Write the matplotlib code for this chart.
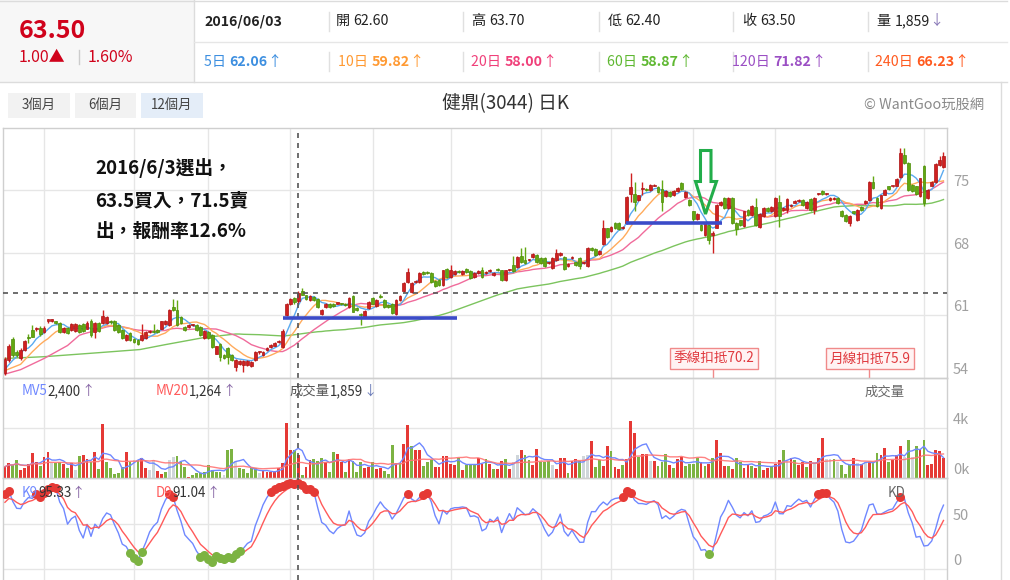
import numpy as np
import pandas as pd
import matplotlib
matplotlib.use("Agg")
import matplotlib.pyplot as plt
from matplotlib.patches import Rectangle, Polygon
import matplotlib.transforms as mtransforms

FONT = ['Noto Sans CJK TC', 'DejaVu Sans']
plt.rcParams['font.family'] = FONT

# ---------------- data ----------------
opens = [54.5, 56.0, 58.3, 56.9, 56.2, 57.1, 58.5, 59.3, 59.4, 59.6,
         59.1, 60.4, 60.4, 60.3, 60.1, 59.1, 59.6, 59.3, 59.2, 59.9,
         60.0, 59.5, 60.4, 59.1, 60.1, 60.1, 60.1, 60.3, 60.4, 59.9,
         59.3, 58.2, 59.0, 58.3, 58.2, 58.2, 58.4, 59.1, 59.2, 59.3,
         59.5, 60.0, 59.9, 61.9, 61.6, 60.8, 59.7, 59.7, 59.9, 59.9,
         59.7, 58.4, 59.1, 58.8, 56.7, 57.8, 56.5, 57.3, 56.5, 55.2,
         55.5, 55.4, 55.4, 55.3, 56.0, 56.9, 56.5, 57.1, 57.4, 57.6,
         58.0, 57.4, 61.0, 62.2, 62.9, 62.6, 63.7, 63.2, 62.7, 63.0,
         62.8, 61.1, 61.9, 62.3, 62.3, 62.3, 62.3, 62.3, 61.9, 63.1,
         61.8, 61.1, 60.8, 61.8, 62.9, 62.0, 63.1, 62.7, 62.1, 62.3,
         61.1, 62.7, 63.7, 64.7, 63.6, 64.7, 64.7, 65.8, 65.8, 65.7,
         64.8, 64.9, 64.4, 66.2, 65.3, 65.6, 65.9, 65.6, 66.2, 65.9,
         65.3, 65.7, 66.1, 65.7, 65.9, 65.5, 66.2, 66.0, 64.9, 66.0,
         66.6, 66.4, 67.6, 67.2, 67.2, 67.5, 67.7, 67.4, 67.4, 66.8,
         66.3, 67.2, 67.7, 67.5, 66.5, 67.4, 66.9, 67.4, 66.8, 66.5,
         68.5, 68.4, 67.8, 69.0, 70.7, 70.4, 71.3, 71.3, 70.7, 71.3,
         74.6, 74.6, 73.9, 75.1, 75.1, 75.0, 75.5, 75.3, 75.1, 74.3,
         74.8, 74.4, 74.9, 75.8, 74.2, 73.9, 72.6, 71.8, 71.1, 70.0,
         71.1, 70.0, 70.8, 73.3, 74.1, 73.0, 74.1, 71.3, 71.6, 71.0,
         72.8, 72.2, 73.1, 70.9, 72.1, 73.0, 72.6, 72.1, 73.7, 72.8,
         72.8, 73.25, 73.6, 73.8, 73.9, 73.0, 74.0, 72.8, 74.6, 74.9,
         74.6, 73.9, 74.0, 74.1, 72.7, 72.2, 71.3, 72.6, 71.6, 73.1,
         73.5, 73.9, 75.9, 74.1, 73.0, 74.5, 75.4, 75.4, 75.5, 76.5,
         78.9, 78.0, 75.6, 75.4, 74.3, 77.7, 74.1, 75.5, 75.9, 77.8,
         77.6]
highs = [56.3, 57.8, 58.5, 57.1, 57.3, 58.2, 58.9, 59.9, 59.7, 59.8,
         59.8, 60.6, 60.6, 60.4, 60.2, 59.7, 59.7, 60.1, 60.1, 60.0,
         60.1, 60.3, 60.6, 60.2, 60.2, 61.6, 60.9, 60.5, 60.5, 60.0,
         59.4, 58.9, 59.1, 58.4, 58.3, 60.0, 59.2, 59.3, 60.0, 59.4,
         60.4, 60.5, 61.7, 62.8, 62.7, 60.9, 59.8, 60.0, 60.0, 60.0,
         59.8, 59.3, 59.2, 58.9, 57.6, 57.9, 56.6, 57.4, 56.6, 56.1,
         56.0, 56.0, 56.0, 55.9, 57.0, 57.0, 57.0, 57.4, 57.8, 58.0,
         58.2, 59.4, 62.4, 62.9, 63.0, 63.7, 64.0, 63.3, 63.2, 63.1,
         62.9, 61.7, 62.4, 62.4, 62.4, 62.4, 62.4, 62.4, 63.0, 63.2,
         61.9, 61.2, 61.6, 62.6, 63.0, 62.8, 63.4, 62.8, 62.2, 62.4,
         62.8, 63.2, 64.7, 66.3, 64.7, 64.9, 65.8, 65.9, 65.9, 65.8,
         64.9, 65.0, 66.1, 66.3, 66.6, 66.0, 66.0, 66.0, 66.3, 66.0,
         65.8, 66.0, 66.4, 65.9, 66.2, 65.8, 66.3, 66.1, 66.1, 66.2,
         67.6, 67.6, 68.5, 68.6, 67.3, 67.9, 67.8, 67.5, 67.5, 66.9,
         67.5, 68.4, 68.1, 67.6, 66.8, 67.6, 67.0, 67.5, 66.9, 68.6,
         68.6, 68.5, 68.3, 71.6, 70.8, 71.0, 71.4, 71.4, 71.0, 74.3,
         76.9, 75.9, 74.5, 75.9, 75.2, 75.7, 75.7, 75.4, 76.1, 75.0,
         74.9, 75.0, 75.3, 75.9, 74.9, 74.0, 72.7, 72.4, 71.2, 71.4,
         71.2, 70.4, 73.4, 73.8, 74.2, 74.2, 74.2, 71.4, 71.7, 72.7,
         72.9, 73.3, 74.1, 72.4, 73.1, 73.1, 73.2, 74.2, 74.4, 73.1,
         74.1, 73.4, 73.9, 74.0, 74.0, 73.8, 74.1, 74.2, 74.7, 75.0,
         74.7, 74.2, 74.2, 74.2, 72.8, 72.3, 72.2, 72.7, 72.9, 73.2,
         73.9, 76.0, 76.6, 74.2, 74.5, 75.1, 75.5, 75.5, 76.3, 79.7,
         79.7, 78.1, 75.7, 75.5, 76.4, 77.8, 75.1, 76.0, 78.0, 78.8,
         79.3]
lows = [54.3, 55.8, 56.3, 56.3, 56.0, 57.0, 57.9, 58.5, 59.2, 58.7,
        59.0, 60.1, 60.2, 60.0, 59.0, 59.0, 58.9, 59.2, 59.1, 59.0,
        59.1, 59.4, 58.6, 58.4, 59.1, 60.0, 60.0, 60.0, 59.2, 59.0,
        58.3, 58.1, 58.1, 57.9, 57.7, 58.1, 58.3, 59.0, 59.0, 59.0,
        59.4, 59.9, 59.8, 61.5, 59.8, 60.0, 59.2, 59.6, 59.8, 59.2,
        58.7, 58.3, 58.3, 57.3, 56.6, 55.9, 56.1, 55.5, 55.9, 54.8,
        55.4, 54.6, 55.3, 55.2, 55.9, 56.7, 56.4, 57.0, 57.3, 57.5,
        57.9, 57.3, 60.9, 62.1, 62.3, 62.4, 63.2, 62.7, 62.6, 62.6,
        61.8, 61.0, 61.8, 61.8, 61.9, 62.2, 62.1, 62.0, 61.8, 61.3,
        61.5, 59.9, 60.7, 61.7, 62.2, 61.9, 62.9, 61.8, 61.8, 61.1,
        61.0, 62.6, 63.6, 64.6, 63.5, 64.6, 64.6, 65.5, 65.6, 64.6,
        64.2, 64.3, 64.3, 65.2, 65.2, 65.5, 65.7, 65.5, 65.7, 65.1,
        65.2, 65.6, 65.2, 65.6, 65.8, 65.4, 65.9, 64.8, 64.8, 65.9,
        65.8, 66.3, 66.8, 66.7, 67.1, 67.4, 66.8, 66.7, 66.4, 66.7,
        66.2, 67.1, 67.6, 66.1, 66.4, 67.3, 66.5, 66.2, 66.7, 66.4,
        68.2, 67.6, 67.7, 68.9, 69.6, 70.3, 70.6, 70.5, 70.6, 71.2,
        73.7, 72.6, 73.8, 74.4, 74.9, 74.9, 75.4, 74.7, 72.6, 74.2,
        74.2, 74.3, 74.8, 75.0, 74.1, 73.2, 71.4, 71.7, 70.4, 69.9,
        69.0, 67.9, 70.7, 73.2, 72.9, 72.9, 71.2, 70.0, 71.0, 70.9,
        72.1, 72.1, 71.0, 70.8, 72.0, 72.5, 72.5, 72.0, 70.9, 72.7,
        72.4, 73.1, 73.5, 73.7, 73.2, 72.9, 72.7, 72.3, 74.5, 74.5,
        74.5, 73.8, 73.9, 73.4, 72.0, 71.4, 71.0, 72.3, 71.5, 72.7,
        73.4, 73.8, 75.1, 73.1, 72.9, 74.4, 75.0, 75.3, 75.4, 76.4,
        77.9, 74.9, 74.8, 74.5, 74.2, 73.2, 74.0, 75.4, 75.8, 77.7,
        77.5]
closes = [56.1, 57.6, 56.5, 56.5, 57.1, 58.1, 58.4, 58.6, 59.5, 58.9,
          59.6, 60.5, 60.5, 60.1, 59.1, 59.6, 59.0, 60.0, 60.0, 59.1,
          59.2, 60.1, 58.8, 60.1, 59.2, 60.9, 60.8, 60.2, 59.3, 59.1,
          58.4, 58.8, 58.2, 58.0, 57.8, 58.8, 59.1, 59.2, 59.1, 59.1,
          60.3, 60.4, 61.6, 61.6, 59.9, 60.1, 59.3, 59.9, 59.9, 59.3,
          58.8, 59.2, 58.4, 57.4, 57.5, 56.3, 56.2, 56.3, 56.0, 56.0,
          55.9, 55.9, 55.9, 55.8, 56.9, 56.9, 56.9, 57.3, 57.7, 57.9,
          58.1, 59.2, 62.3, 62.8, 62.5, 63.5, 63.3, 62.8, 63.1, 62.7,
          61.9, 61.6, 62.3, 61.9, 62.0, 62.3, 62.2, 62.1, 62.9, 61.4,
          61.6, 61.0, 61.5, 62.5, 62.3, 62.7, 63.0, 61.9, 61.9, 61.2,
          62.7, 63.1, 64.6, 65.8, 64.6, 64.7, 65.7, 65.6, 65.7, 64.7,
          64.3, 64.4, 66.0, 65.3, 66.1, 65.9, 65.85, 65.9, 65.8, 65.2,
          65.7, 65.9, 65.3, 65.75, 66.1, 65.7, 66.0, 64.9, 66.0, 66.1,
          65.9, 67.5, 66.9, 66.8, 67.2, 67.8, 66.9, 66.8, 66.5, 66.8,
          67.4, 67.9, 68.0, 66.2, 66.7, 67.4, 66.6, 66.5, 66.8, 68.5,
          68.3, 67.7, 68.2, 70.7, 69.7, 70.9, 70.7, 70.6, 70.9, 74.2,
          75.3, 73.7, 74.4, 75.1, 75.0, 75.6, 75.6, 74.8, 73.7, 74.9,
          74.3, 74.9, 75.2, 75.1, 74.8, 73.3, 71.8, 72.3, 70.5, 71.3,
          69.4, 70.2, 73.3, 73.7, 73.0, 74.1, 71.3, 70.6, 71.1, 72.6,
          72.2, 73.2, 71.1, 72.3, 73.0, 72.6, 73.1, 74.1, 72.1, 73.0,
          74.0, 73.25, 73.8, 73.9, 73.3, 73.7, 72.8, 74.1, 74.6, 74.6,
          74.6, 74.1, 74.1, 73.5, 72.1, 71.5, 72.1, 72.4, 72.8, 72.8,
          73.8, 75.9, 75.2, 73.2, 74.4, 75.0, 75.1, 75.4, 76.2, 79.2,
          78.0, 75.0, 74.9, 74.6, 76.3, 73.5, 75.0, 75.9, 77.9, 78.4,
          78.8]
volumes = [930, 1200, 1070, 1470, 670, 800, 1120, 2000, 1280, 1010,
           1730, 2080, 1200, 1250, 1280, 1120, 800, 1200, 670, 1810,
           1870, 1550, 1280, 2080, 750, 4350, 1330, 800, 320, 400,
           930, 2080, 1330, 1470, 1470, 1600, 850, 670, 1470, 610,
           320, 530, 1470, 1680, 1810, 1280, 930, 130, 270, 400,
           400, 530, 1070, 670, 480, 480, 270, 2250, 2330, 1390,
           800, 750, 400, 850, 800, 400, 590, 480, 530, 590,
           850, 1201, 4400, 2270, 2270, 1859, 270, 930, 1470, 1550,
           1390, 1600, 1280, 480, 2080, 1950, 1280, 480, 1550, 1390,
           480, 1280, 850, 930, 1280, 720, 850, 590, 350, 2670,
           1200, 1250, 2750, 4270, 2610, 2270, 2270, 1010, 1280, 1470,
           930, 930, 1810, 1810, 1120, 1070, 1600, 670, 1070, 1120,
           1070, 1600, 1120, 1550, 1120, 750, 750, 1390, 1550, 750,
           1280, 1870, 2270, 1870, 1470, 1070, 2350, 1330, 1280, 1390,
           1070, 750, 1600, 1650, 450, 1390, 1550, 1390, 1790, 1870,
           2990, 930, 1470, 1010, 2590, 2190, 930, 750, 1070, 1550,
           4590, 3600, 1730, 1920, 1920, 1390, 1390, 1010, 1280, 1920,
           1070, 850, 1550, 1730, 1010, 1120, 1120, 1650, 1280, 1010,
           1120, 1600, 3070, 2000, 1010, 1010, 750, 1600, 1280, 800,
           1070, 1010, 850, 1390, 670, 850, 930, 1120, 1470, 2270,
           1390, 1600, 1470, 1070, 1280, 930, 1390, 1280, 1600, 3200,
           1550, 1550, 1550, 1330, 1070, 350, 1070, 1650, 1200, 1120,
           1280, 1280, 1280, 2000, 1870, 2450, 1280, 1470, 1870, 2590,
           1730, 3070, 1730, 2590, 2350, 3070, 1070, 1120, 2270, 2190,
           1650]
# volume bar colour code per day: u = up (red), d = down (green), f = flat (grey)
vol_dir = ("uudduuuuud" "uufddudufd" "uudududddd" "dudfduuffu" "udffdddudd"
           "ddddddfddf" "dddddfuuuu" "uuuududuud" "ddudduudud" "dduuduuddd"
           "uduuduuddd" "uuuuuududd" "duududuudu" "ffudduuddd" "fuuuduudff"
           "udduuduudu" "uuduufuddd" "uduuddddud" "uduuududdu" "ududuuduud"
           "fuduudufuu" "ffdfdddufu" "fudduuduuu" "fdfduduuuu" "u")
ma_head = {5: [(0, 54.95), (2, 55.96)],
           10: [(0, 54.8), (4, 55.5), (7, 56.9)],
           20: [(0, 54.4), (4, 54.9), (10, 56.15), (16, 57.6)],
           60: [(0, 56.15), (10, 56.35), (24, 56.8), (34.5, 57.15), (41, 57.7), (51, 58.5)]}
month_starts = [10, 33, 52, 73, 94, 114, 137, 155, 176, 197, 235]
sel = 75                       # crosshair candle
sel_date = "2016/06/03"
ma120_sel, ma240_sel = 71.82, 66.23
k9_sel, d9_sel = 95.33, 91.04
k_init, d_init = 80.0, 70.0
stock_title = "健鼎(3044) 日K"
range_buttons = ["3個月", "6個月", "12個月"]
note_lines = ["2016/6/3選出，", "63.5買入，71.5賣", "出，報酬率12.6%"]
support_lines = [(71.1, 115.6, 60.67), (158.8, 183.4, 71.27)]

O = np.array(opens); Hh = np.array(highs); Ll = np.array(lows); C = np.array(closes)
V = np.array(volumes, dtype=float)
N = len(C)
assert len(O) == N and len(Hh) == N and len(Ll) == N and len(V) == N and len(vol_dir) == N, \
    (len(O), len(Hh), len(Ll), len(V), len(vol_dir), N)
idx = np.arange(N)

# ---------------- derived series ----------------
s = pd.Series(C)
ma = {n: s.rolling(n, min_periods=1).mean().values for n in (5, 10, 20, 60)}
vs = pd.Series(V)
mv5 = vs.rolling(5, min_periods=1).mean().values
mv20 = vs.rolling(20, min_periods=1).mean().values
h9 = pd.Series(Hh).rolling(9, min_periods=1).max().values
l9 = pd.Series(Ll).rolling(9, min_periods=1).min().values
rsv = (C - l9) / np.where(h9 - l9 == 0, 1, h9 - l9) * 100
K = np.zeros(N); D = np.zeros(N)
kp, dp = k_init, d_init
for i in range(N):
    kp = kp * 2 / 3 + rsv[i] / 3
    dp = dp * 2 / 3 + kp / 3
    K[i], D[i] = kp, dp


def ma_line(n):
    hx = [p[0] for p in ma_head[n]]
    hy = [p[1] for p in ma_head[n]]
    full = np.arange(n - 1, N)
    return np.concatenate([hx, full]), np.concatenate([hy, ma[n][n - 1:]])


# ---------------- figure ----------------
W, Hfig = 1010, 580
fig = plt.figure(figsize=(W / 100, Hfig / 100), dpi=100)
fig.patch.set_facecolor('white')


def axes_px(x0, y0, x1, y1):
    return fig.add_axes([x0 / W, 1 - y1 / Hfig, (x1 - x0) / W, (y1 - y0) / Hfig])


bg = axes_px(0, 0, W, Hfig)
bg.set_xlim(0, W); bg.set_ylim(Hfig, 0); bg.axis('off')

RED = '#d02020'; RED_E = '#aa1515'
GRN = '#62a812'; GRN_E = '#4c8c08'
GRID = '#e6e6e6'
XL = (-0.5, 240.9)

axp = axes_px(3, 127.5, 947, 377.7)
axv = axes_px(3, 378.3, 947, 478.3)
axk = axes_px(3, 478.3, 947, 580)
for a in (axp, axv, axk):
    a.set_xlim(*XL)
    a.set_xticks([]); a.set_yticks([])
    a.set_facecolor('none')
    for sp in a.spines.values():
        sp.set_color('#cfcfcf'); sp.set_linewidth(1)
    for m in month_starts:
        a.axvline(m, color=GRID, lw=1, zorder=0)
axk.spines['bottom'].set_visible(False)
axp.set_ylim(54, 82)
axv.set_ylim(0, 8000)
axk.set_ylim(-11.9, 101.1)
for v in (61, 68, 75):
    axp.axhline(v, color=GRID, lw=1, zorder=0)
axv.axhline(4000, color=GRID, lw=1, zorder=0)
for v in (0, 50):
    axk.axhline(v, color=GRID, lw=1, zorder=0)


def right_labels(a, vals, texts, dy):
    for v, t in zip(vals, texts):
        a.annotate(t, xy=(1, v), xycoords=('axes fraction', 'data'), xytext=(6, dy),
                   textcoords='offset pixels', va='center', ha='left', fontsize=10.5,
                   color='#a0a0a0', annotation_clip=False)


right_labels(axp, [54, 61, 68, 75], ['54', '61', '68', '75'], 8)
right_labels(axv, [0, 4000], ['0k', '4k'], 8)
right_labels(axk, [0, 50], ['0', '50'], 8)

# MA lines
for n, col in ((60, '#7cc45e'), (20, '#f06b9b'), (10, '#ffab5c'), (5, '#5aaaf0')):
    xs, ys = ma_line(n)
    axp.plot(xs, ys, color=col, lw=1.0, zorder=2)

# candles
upc = C >= O
fc = np.where(upc, RED, GRN); ec = np.where(upc, RED_E, GRN_E)
axp.vlines(idx, Ll, Hh, colors=fc, lw=1.0, zorder=3)
axp.bar(idx, np.maximum(np.abs(C - O), 0.12), bottom=np.minimum(O, C), width=0.72,
        color=fc, edgecolor=ec, linewidth=0.5, zorder=4)

# crosshair
for a in (axp, axv, axk):
    a.axvline(sel, color='#555555', lw=1.2, ls=(0, (3, 3)), zorder=6)
axp.axhline(C[sel], color='#555555', lw=1.2, ls=(0, (3, 3)), zorder=6)

# support lines
for x0, x1, y in support_lines:
    axp.hlines(y, x0, x1, color='#3b4bc8', lw=2.6, zorder=7)

# deduction labels
btr = mtransforms.blended_transform_factory(axp.transData, axp.transAxes)
for n, name in ((60, '季線扣抵'), (20, '月線扣抵')):
    i0 = N - n
    axp.plot([i0, i0], [0, 0.035], transform=btr, color='#f08a8a', lw=1, zorder=7)
    axp.text(i0 + 0.3, 0.077, f"{name}{C[i0]:.1f}", transform=btr, ha='center', va='center',
             fontsize=9.8, color='#e0393e', zorder=8,
             bbox=dict(boxstyle='square,pad=0.25', fc='#fff3f3', ec='#f08a8a', lw=1))

# volume
vcol = {'u': '#e53935', 'd': '#7cb342', 'f': '#cfd6da'}
axv.bar(idx, V, width=0.72, color=[vcol[c] for c in vol_dir], linewidth=0, zorder=3)
axv.plot(idx, mv5, color='#6f88ff', lw=1.0, zorder=4)
axv.plot(idx, mv20, color='#ff7575', lw=1.0, zorder=4, alpha=0.9)

# KD
axk.plot(idx, K, color='#6f88ff', lw=1.0, zorder=3)
axk.plot(idx, D, color='#ff5a5a', lw=1.0, zorder=3)
hi = K >= 80; lo = K <= 20
axk.plot(idx[hi], K[hi], 'o', color='#e53935', ms=6.5, mec='none', zorder=5)
axk.plot(idx[lo], K[lo], 'o', color='#7cb342', ms=6.5, mec='none', zorder=5)

# ---------------- overlay (header, texts, arrow) ----------------
fg = axes_px(0, 0, W, Hfig)
fg.set_xlim(0, W); fg.set_ylim(Hfig, 0); fg.axis('off')
fg.patch.set_alpha(0)
fg.set_zorder(20)


def chain(a, x, y, parts, size, zorder=9):
    t = None
    for s_, c_, w_ in parts:
        if t is None:
            t = a.text(x, y, s_, color=c_, fontsize=size, fontweight=w_, va='center', ha='left', zorder=zorder)
        else:
            t = a.annotate(s_, xy=(1, 0.5), xycoords=t, va='center', ha='left', color=c_,
                           fontsize=size, fontweight=w_, zorder=zorder)
    return t


# header background
bg.add_patch(Rectangle((0, 0), 194, 81.5, fc='#f7f7f7', ec='none'))
bg.plot([194, 194], [0, 81.5], color='#dcdcdc', lw=1)
bg.plot([194, 1007], [41.7, 41.7], color='#e6e6e6', lw=1)
bg.plot([0, 1007], [81.5, 81.5], color='#dcdcdc', lw=1)
bg.plot([0, 1007], [1, 1], color='#dcdcdc', lw=1)
bg.plot([1001, 1001], [82, 580], color='#dcdcdc', lw=1)

chg = C[sel] - C[sel - 1]
fg.text(19, 31, f"{C[sel]:.2f}", color='#d0021b', fontsize=18, fontweight='bold', va='center')
fg.text(19, 57, f"{chg:.2f}▲", color='#d0021b', fontsize=11.5, va='center')
fg.plot([79, 79], [50, 64], color='#cccccc', lw=1)
fg.text(88, 57, f"{chg / C[sel - 1] * 100:.2f}%", color='#d0021b', fontsize=11.5, va='center')

row1 = [(204, [(sel_date, '#222222', 'bold')]),
        (336, [("開 ", '#222222', 'normal'), (f"{O[sel]:.2f}", '#222222', 'normal')]),
        (472, [("高 ", '#222222', 'normal'), (f"{Hh[sel]:.2f}", '#222222', 'normal')]),
        (608, [("低 ", '#222222', 'normal'), (f"{Ll[sel]:.2f}", '#222222', 'normal')]),
        (743, [("收 ", '#222222', 'normal'), (f"{C[sel]:.2f}", '#222222', 'normal')]),
        (877, [("量 ", '#222222', 'normal'), (f"{V[sel]:,.0f}", '#222222', 'normal'),
               ("↓" if V[sel] < V[sel - 1] else "↑", '#8a7ab8', 'normal')])]
for x, parts in row1:
    chain(fg, x, 21, parts, 10.2)
for x in (329, 463, 599, 733, 868):
    bg.plot([x, x], [12, 31], color='#e0e0e0', lw=1)
    bg.plot([x, x], [52, 71], color='#e0e0e0', lw=1)

ma_items = [(204, "5日 ", ma[5][sel], '#3d8fe0'), (338, "10日 ", ma[10][sel], '#ff9a33'),
            (471, "20日 ", ma[20][sel], '#f0407a'), (607, "60日 ", ma[60][sel], '#5fb832'),
            (732, "120日 ", ma120_sel, '#9b4fc4'), (875, "240日 ", ma240_sel, '#ff5a1f')]
for x, lab, val, col in ma_items:
    chain(fg, x, 62, [(lab, col, 'normal'), (f"{val:.2f}", col, 'bold'), ("↑", col, 'normal')], 10.2)

# range buttons
for (x0, x1), lab, col in zip([(8, 70), (74.5, 136), (141, 203)], range_buttons,
                              ['#f2f2f2', '#f2f2f2', '#e4edf8']):
    bg.add_patch(Rectangle((x0, 92.5), x1 - x0, 25, fc=col, ec='none'))
    fg.text((x0 + x1) / 2, 105, lab, ha='center', va='center', fontsize=9.6, color='#444444')
fg.text(505, 104, stock_title, ha='center', va='center', fontsize=13.5, color='#333333')
fg.text(984, 105, "© WantGoo玩股網", ha='right', va='center', fontsize=10.3, color='#8a8a8a')

# note text
for y, line in zip([168.5, 200.5, 231.5], note_lines):
    fg.text(95, y, line, fontsize=13.5, fontweight='bold', color='#111111', va='center', ha='left')

# green hollow arrow
arrow_pts = [(700.5, 150.5), (711, 150.5), (711, 181.5), (716.5, 181.5), (705.5, 214),
             (695.5, 181.5), (700.5, 181.5)]
fg.add_patch(Polygon(arrow_pts, closed=True, fill=False, ec='#22ad4a', lw=2.2, joinstyle='miter'))

# panel legends
chain(fg, 22, 391, [("MV5", '#6f88ff', 'normal'), (f"{mv5[sel]:,.0f}", '#333333', 'normal'),
                    ("↑" if mv5[sel] >= mv5[sel - 1] else "↓", '#8a6aa8', 'normal')], 9.6)
chain(fg, 156, 391, [("MV20", '#ff5a5a', 'normal'), (f"{mv20[sel]:,.0f}", '#333333', 'normal'),
                     ("↑" if mv20[sel] >= mv20[sel - 1] else "↓", '#8a6aa8', 'normal')], 9.6)
chain(fg, 290, 391, [("成交量", '#555555', 'normal'), (f"{V[sel]:,.0f}", '#333333', 'normal'),
                     ("↓" if V[sel] < V[sel - 1] else "↑", '#6a7ab8', 'normal')], 9.6)
fg.text(865, 392, "成交量", fontsize=9.6, color='#666666', va='center')
chain(fg, 22, 493, [("K9", '#6f88ff', 'normal'), (f"{k9_sel:.2f}", '#333333', 'normal'),
                    ("↑", '#8a6aa8', 'normal')], 9.6)
chain(fg, 156, 493, [("D9", '#ff5a5a', 'normal'), (f"{d9_sel:.2f}", '#333333', 'normal'),
                     ("↑", '#8a6aa8', 'normal')], 9.6)
fg.text(888, 493, "KD", fontsize=9.6, color='#666666', va='center')

fig.savefig("out.png", dpi=100)
